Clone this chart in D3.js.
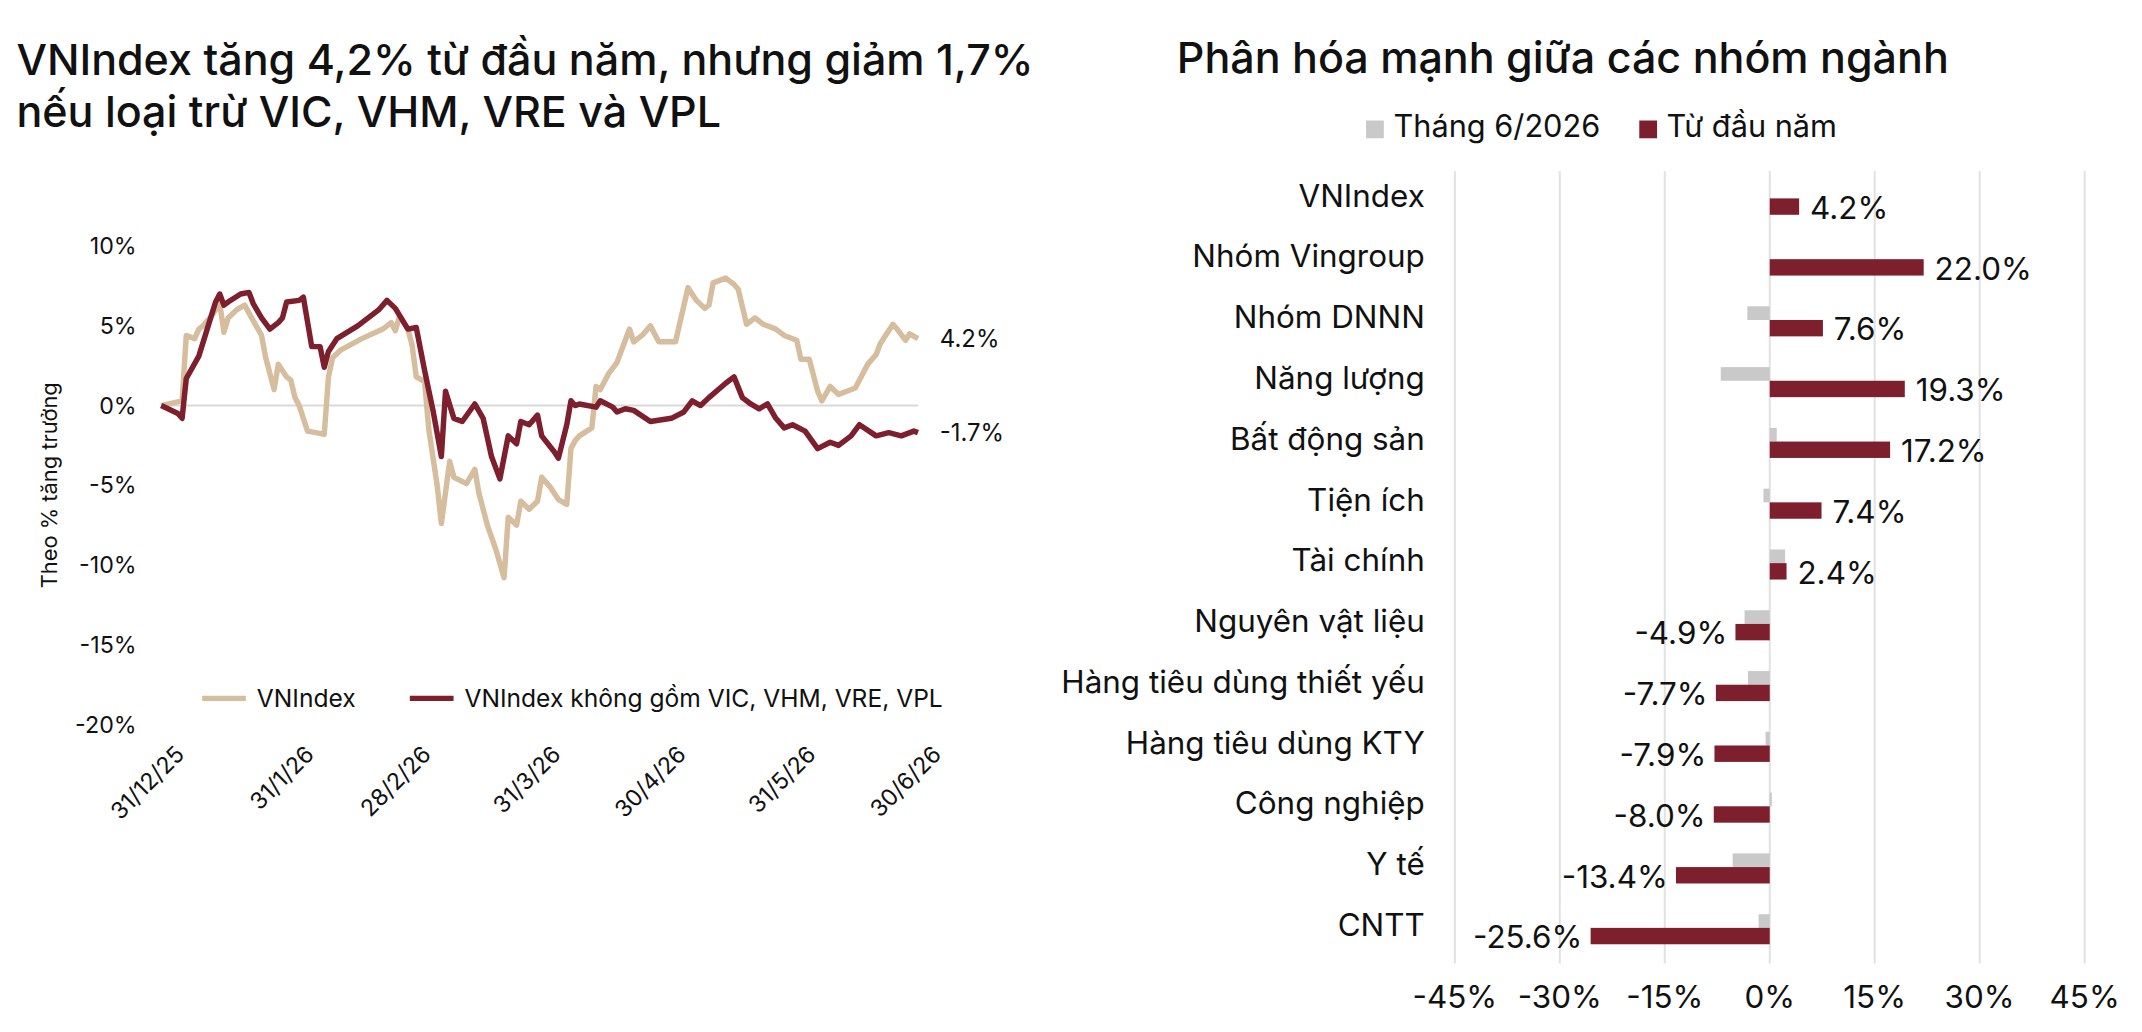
<!DOCTYPE html>
<html><head><meta charset="utf-8">
<script src="https://cdn.jsdelivr.net/npm/d3@7"></script>
<style>
body{margin:0;background:#fff;font-family:Inter,"Noto Sans",sans-serif;}
svg text{fill:#111;}
</style></head>
<body>
<script>
// line chart data: days since 31/12/25, % growth
const vnDays = [0,5,6,8,9,10,12,14,15,16,18,20,21,24,25,27,28,30,31,32,33,35,37,39,40,41,43,48,53,55,56,57,59,60,61,63,64,66,67,69,70,73,75,76,78,80,82,83,85,86,88,90,91,93,95,97,98,99,100,103,104,105,107,109,112,113,115,117,119,123,126,128,130,131,132,135,137,138,140,142,144,147,149,152,153,155,157,158,160,162,164,166,169,171,172,175,176,178,179,181];
const vnVals = [0,0.3,4.4,4.2,4.8,5.0,5.6,6.4,4.6,5.5,6.0,6.3,5.8,4.4,3.0,1.0,2.6,1.8,1.6,0.5,0,-1.6,-1.7,-1.8,1.8,3.0,3.5,4.2,4.8,5.2,4.7,5.6,4.8,3.8,1.8,1.5,-1.5,-5.0,-7.4,-3.5,-4.5,-4.9,-4.0,-5.5,-7.5,-9.0,-10.8,-7.0,-7.5,-6.0,-6.5,-6.0,-4.5,-5.1,-5.9,-6.2,-2.7,-2.2,-1.9,-1.4,1.2,1.0,2.0,2.7,4.8,4.0,4.4,5.0,4.0,4.0,7.4,6.6,6.1,6.3,7.7,8.0,7.6,7.3,5.1,5.5,5.1,4.8,4.4,4.1,2.9,2.9,0.9,0.3,1.2,0.7,0.9,1.1,2.6,3.2,3.9,5.1,4.8,4.1,4.5,4.2];
const exDays = [0,4,5,6,9,11,13,14,15,16,19,21,22,24,26,28,29,30,33,34,36,38,39,40,42,47,52,54,56,59,61,63,65,67,68,70,72,75,77,79,81,83,85,86,88,90,91,94,95,97,98,99,100,104,105,108,109,111,113,117,122,125,127,129,131,135,137,139,141,143,145,147,149,151,154,157,160,162,165,167,171,174,177,180,181];
const exVals = [0,-0.5,-0.8,1.7,3.1,4.8,6.5,7.0,6.3,6.5,7.0,7.1,6.4,5.5,4.8,5.2,5.5,6.5,6.6,6.8,3.7,3.7,2.4,3.4,4.2,5.0,6.0,6.6,6.1,4.8,4.9,2.2,-0.3,-3.2,0.9,-0.8,-1.0,0.1,-0.8,-3.2,-4.6,-1.9,-2.4,-1.0,-1.2,-0.6,-1.9,-2.9,-3.3,-1.2,0.3,0,0.1,-0.1,0.3,-0.1,-0.4,-0.2,-0.3,-1.0,-0.8,-0.4,0.3,0,0.5,1.4,1.8,0.5,0.1,-0.2,0.1,-0.8,-1.4,-1.2,-1.6,-2.7,-2.3,-2.5,-1.9,-1.2,-1.9,-1.7,-1.9,-1.6,-1.7];
const dateTicks = ["2025-12-31","2026-01-31","2026-02-28","2026-03-31","2026-04-30","2026-05-31","2026-06-30"];
const yTicks = [10,5,0,-5,-10,-15,-20];

// bar chart data
const sectors = ["VNIndex","Nhóm Vingroup","Nhóm DNNN","Năng lượng","Bất động sản","Tiện ích","Tài chính","Nguyên vật liệu","Hàng tiêu dùng thiết yếu","Hàng tiêu dùng KTY","Công nghiệp","Y tế","CNTT"];
const june = [0,0,-3.2,-7.0,1.0,-0.9,2.2,-3.6,-3.1,-0.6,0.3,-5.3,-1.6];
const ytd = [4.2,22.0,7.6,19.3,17.2,7.4,2.4,-4.9,-7.7,-7.9,-8.0,-13.4,-25.6];
const barTicks = [-45,-30,-15,0,15,30,45];

const TAN = "#d5bd9e", RED = "#7d1f2d", GRAY = "#c9c9c9";

const svg = d3.select("body").append("svg")
	.attr("width", 2142).attr("height", 1032)
	.attr("viewBox", "0 0 1568 755");

// ---- left chart ----
svg.append("text").attr("x", 12).attr("y", 55).attr("font-size", 31.5).attr("font-weight", 500).text("VNIndex tăng 4,2% từ đầu năm, nhưng giảm 1,7%");
svg.append("text").attr("x", 12).attr("y", 93).attr("font-size", 31.5).attr("font-weight", 500).text("nếu loại trừ VIC, VHM, VRE và VPL");

const base = new Date(2025, 11, 31);
const x = d3.scaleTime().domain([base, d3.timeDay.offset(base, 181)]).range([118, 672]);
const y = d3.scaleLinear().domain([-20, 10]).range([530, 180]);

svg.append("line").attr("x1", 118).attr("x2", 672).attr("y1", y(0)).attr("y2", y(0))
	.attr("stroke", "#d9d9d9").attr("stroke-width", 1.5);

svg.selectAll(".ytick").data(yTicks).enter().append("text")
	.attr("x", 100).attr("y", d => y(d) + 6).attr("text-anchor", "end").attr("font-size", 17)
	.text(d => d + "%");

svg.append("text").attr("transform", "translate(42,355) rotate(-90)").attr("text-anchor", "middle")
	.attr("font-size", 16).text("Theo % tăng trưởng");

const parse = d3.timeParse("%Y-%m-%d"), fmt = d3.timeFormat("%-d/%-m/%y");
svg.selectAll(".xtick").data(dateTicks.map(parse)).enter().append("text")
	.attr("transform", d => "translate(" + (x(d) + 18) + ",553) rotate(-45)")
	.attr("text-anchor", "end").attr("font-size", 17).text(d => fmt(d));

const line = d3.line().x(d => x(d3.timeDay.offset(base, d[0]))).y(d => y(d[1]));
svg.append("path").datum(d3.zip(vnDays, vnVals)).attr("d", line)
	.attr("fill", "none").attr("stroke", TAN).attr("stroke-width", 4).attr("stroke-linejoin", "round");
svg.append("path").datum(d3.zip(exDays, exVals)).attr("d", line)
	.attr("fill", "none").attr("stroke", RED).attr("stroke-width", 4).attr("stroke-linejoin", "round");

svg.append("text").attr("x", 688).attr("y", y(4.2) + 6).attr("font-size", 17.5).text("4.2%");
svg.append("text").attr("x", 688).attr("y", y(-1.7) + 6).attr("font-size", 17.5).text("-1.7%");

[[148, TAN, "VNIndex"], [300, RED, "VNIndex không gồm VIC, VHM, VRE, VPL"]].forEach(l => {
	svg.append("line").attr("x1", l[0]).attr("x2", l[0] + 32).attr("y1", 511).attr("y2", 511)
		.attr("stroke", l[1]).attr("stroke-width", 4);
	svg.append("text").attr("x", l[0] + 40).attr("y", 517).attr("font-size", 18).text(l[2]);
});

// ---- right chart ----
svg.append("text").attr("x", 1144).attr("y", 53).attr("text-anchor", "middle").attr("font-size", 31.5)
	.attr("font-weight", 500).text("Phân hóa mạnh giữa các nhóm ngành");
[[1000, GRAY, "Tháng 6/2026"], [1200, RED, "Từ đầu năm"]].forEach(l => {
	svg.append("rect").attr("x", l[0]).attr("y", 88).attr("width", 13).attr("height", 13).attr("fill", l[1]);
	svg.append("text").attr("x", l[0] + 20).attr("y", 100).attr("font-size", 22.5).text(l[2]);
});

const bx = d3.scaleLinear().domain([-45, 45]).range([1065, 1526]);
const by = d3.scalePoint().domain(sectors).range([143, 677]);

svg.selectAll(".grid").data(barTicks).enter().append("line")
	.attr("x1", d => bx(d)).attr("x2", d => bx(d)).attr("y1", 125).attr("y2", 705)
	.attr("stroke", "#e2e2e2").attr("stroke-width", 1.5);
svg.selectAll(".btick").data(barTicks).enter().append("text")
	.attr("x", d => bx(d)).attr("y", 738).attr("text-anchor", "middle").attr("font-size", 23)
	.text(d => d + "%");

svg.selectAll(".cat").data(sectors).enter().append("text")
	.attr("x", 1043).attr("y", d => by(d) + 8).attr("text-anchor", "end").attr("font-size", 23).text(d => d);

svg.selectAll(".june").data(june).enter().append("rect")
	.attr("x", d => bx(Math.min(0, d))).attr("width", d => Math.abs(bx(d) - bx(0)))
	.attr("y", (d, i) => by(sectors[i]) - 8).attr("height", 10).attr("fill", GRAY);
svg.selectAll(".ytd").data(ytd).enter().append("rect")
	.attr("x", d => bx(Math.min(0, d))).attr("width", d => Math.abs(bx(d) - bx(0)))
	.attr("y", (d, i) => by(sectors[i]) + 2).attr("height", 12).attr("fill", RED);
svg.selectAll(".val").data(ytd).enter().append("text")
	.attr("x", d => d >= 0 ? bx(d) + 8 : bx(d) - 6)
	.attr("y", (d, i) => by(sectors[i]) + 17)
	.attr("text-anchor", d => d >= 0 ? "start" : "end").attr("font-size", 23)
	.text(d => d.toFixed(1) + "%");
</script>
</body></html>
